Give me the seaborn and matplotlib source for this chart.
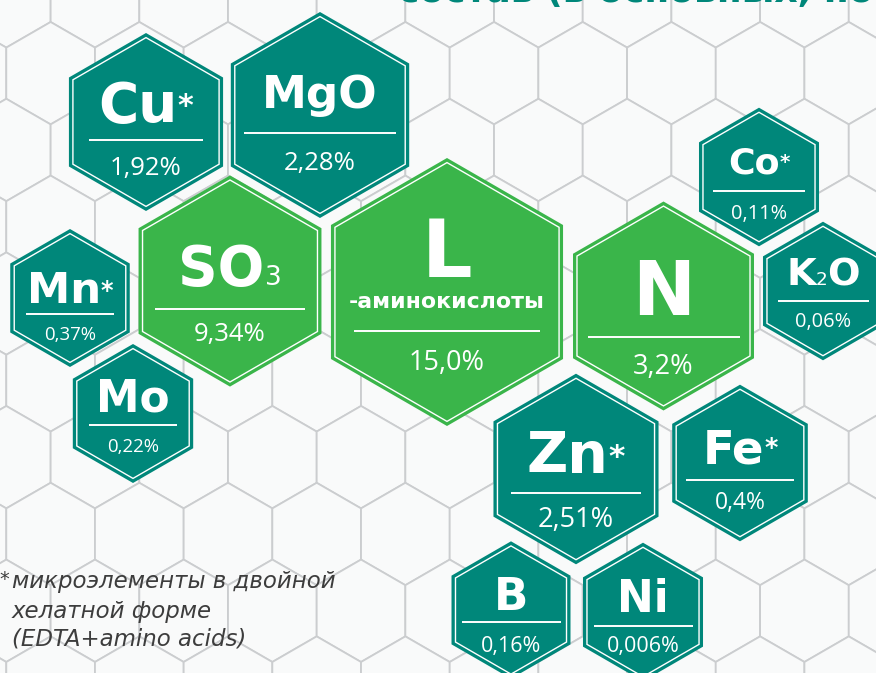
import matplotlib
matplotlib.use("Agg")
import numpy as np
import pandas as pd
import matplotlib.pyplot as plt
import seaborn as sns
from matplotlib.patches import RegularPolygon

# nutrients shown in the honeycomb
symbols = ["Cu", "MgO", "Mn", "SO3", "Mo", "L", "N", "Co", "K2O", "Zn", "Fe", "B", "Ni"]
shares = ["1,92%", "2,28%", "0,37%", "9,34%", "0,22%", "15,0%", "3,2%",
          "0,11%", "0,06%", "2,51%", "0,4%", "0,16%", "0,006%"]
chelated = [True, False, True, False, False, False, False, True, False, True, True, False, False]
groups = ["micro", "micro", "micro", "main", "micro", "main", "main",
          "micro", "micro", "micro", "micro", "micro", "micro"]
subtitles = ["", "", "", "", "", "-аминокислоты", "", "", "", "", "", "", ""]
footnote = ["микроэлементы в двойной", "хелатной форме", "(EDTA+amino acids)"]
heading = "состав (в основных, по Немо"

# layout (pixels), one entry per hexagon
cx = [146, 320, 70, 230, 133, 447, 663.5, 759, 823, 576, 740, 511, 643]
cy = [122, 115, 298, 281, 413.5, 292, 306, 177, 291, 469, 463, 610, 612]
rad = [89, 103, 69, 105.6, 69.5, 134, 104.5, 69.3, 69.3, 95.3, 78.3, 68.7, 69.3]
sym_cap = [40, 33, 31.6, 40, 32, 58, 55, 26.5, 28, 41.6, 34, 33, 32]
sym_base = [0, -7, 5, 4, -1.5, -15, 9, -4, -6, 4, 0, 0, 0]
rule_off = [18, 18, 16, 28, 11.5, 39, 31, 14, 10, 24, 17, 12, 14]
rule_half = [57, 75.6, 44, 75, 44, 93, 76, 46, 45.5, 65, 54, 49.5, 49.5]
pct_cap = [18, 18, 13, 18, 13, 19, 19, 14, 14, 19, 16, 15, 15]
pct_mid = [44, 46, 35, 51, 31.5, 69, 58, 34.5, 29.5, 48.5, 38, 34.5, 32.5]

TEAL = "#00877a"
GREEN = "#3ab54a"
palette = {"micro": TEAL, "main": GREEN}
W, H = 876, 673

sns.set_theme(style="white")
plt.rcParams["font.family"] = ["DejaVu Sans"]

fig = plt.figure(figsize=(W / 100, H / 100), dpi=100)
fig.patch.set_facecolor("#f1f2f3")
ax = fig.add_axes([0, 0, 1, 1])
ax.set_facecolor("#f1f2f3")

# background honeycomb (decoration only)
bg_r = 51.2
bg_w = bg_r * np.sqrt(3)
for j in range(-8, 4):
    yy = 534 + 1.5 * bg_r * j
    shift = 0 if j % 2 == 0 else -bg_w / 2
    for k in range(-3, 11):
        xx = 228 + shift + bg_w * (k - 2)
        ax.add_patch(RegularPolygon((xx, yy), 6, radius=bg_r, facecolor="#f9fafa",
                                    edgecolor="#cbcdcf", linewidth=1.3, zorder=1))

df = pd.DataFrame({"cx": cx, "cy": cy, "rad": rad, "group": groups})


def marker_area(r_px):
    # 'h' marker: circumradius = 0.5 * sqrt(s) points
    return (2 * r_px * 72 / 100) ** 2


layers = [(0, None), (3.8, "white"), (5.4, None)]
for z, (inset, col) in enumerate(layers):
    kw = dict(color=col) if col else dict(hue="group", palette=palette)
    sns.scatterplot(data=df, x="cx", y="cy", s=marker_area(df["rad"] - inset),
                    marker="h", linewidth=0, legend=False, ax=ax, zorder=3 + z, **kw)

ax.set_xlim(0, W)
ax.set_ylim(H, 0)
ax.axis("off")

renderer = fig.canvas.get_renderer()


def split_symbol(sym, star):
    pieces = []
    for ch in sym:
        if ch.isdigit():
            pieces.append((ch, 0.48, "normal", 0.0))
        elif pieces and pieces[-1][2] == "bold" and pieces[-1][1] == 1.0:
            pieces[-1] = (pieces[-1][0] + ch, 1.0, "bold", 0.0)
        else:
            pieces.append((ch, 1.0, "bold", 0.0))
    if star:
        pieces.append(("*", 0.55, "bold", 0.17))
    return pieces


def place_pieces(x_mid, y_base, cap, pieces):
    size = cap / 1.0125
    made = []
    for text, scale, weight, lift in pieces:
        t = ax.text(0, y_base - lift * cap, text, fontsize=size * scale, fontweight=weight,
                    color="white", ha="left", va="baseline", zorder=10)
        made.append((t, t.get_window_extent(renderer).width))
    total = sum(w for _, w in made)
    x = x_mid - total / 2
    for t, w in made:
        t.set_x(x)
        x += w


for i in range(len(symbols)):
    base = cy[i] + sym_base[i]
    place_pieces(cx[i], base, sym_cap[i], split_symbol(symbols[i], chelated[i]))
    if subtitles[i]:
        ax.text(cx[i], cy[i] + 16, subtitles[i], fontsize=15.8, fontweight="bold",
                color="white", ha="center", va="baseline", zorder=10)
    ax.plot([cx[i] - rule_half[i], cx[i] + rule_half[i]], [cy[i] + rule_off[i]] * 2,
            color="white", lw=1.4, solid_capstyle="butt", zorder=9)
    ax.text(cx[i], cy[i] + pct_mid[i] + pct_cap[i] / 2, shares[i], fontsize=pct_cap[i] * 1.03,
            family=["Open Sans", "DejaVu Sans"], fontweight="medium",
            color="white", ha="center", va="baseline", zorder=10)

# footnote
ax.text(-1, 585, "*", fontsize=14, style="italic", fontweight="light", color="#3d3d3d",
        va="baseline", zorder=10)
for line, yb in zip(footnote, [588, 618, 646]):
    ax.text(12, yb, line, fontsize=16.5, style="italic", fontweight="light",
            color="#3d3d3d", ha="left", va="baseline", zorder=10)

# heading, mostly cut by the top edge as in the source picture
ax.text(398, 2, heading, fontsize=26, fontweight="bold", color=TEAL,
        ha="left", va="baseline", zorder=10)

fig.savefig("out.png", dpi=100, facecolor=fig.get_facecolor())
